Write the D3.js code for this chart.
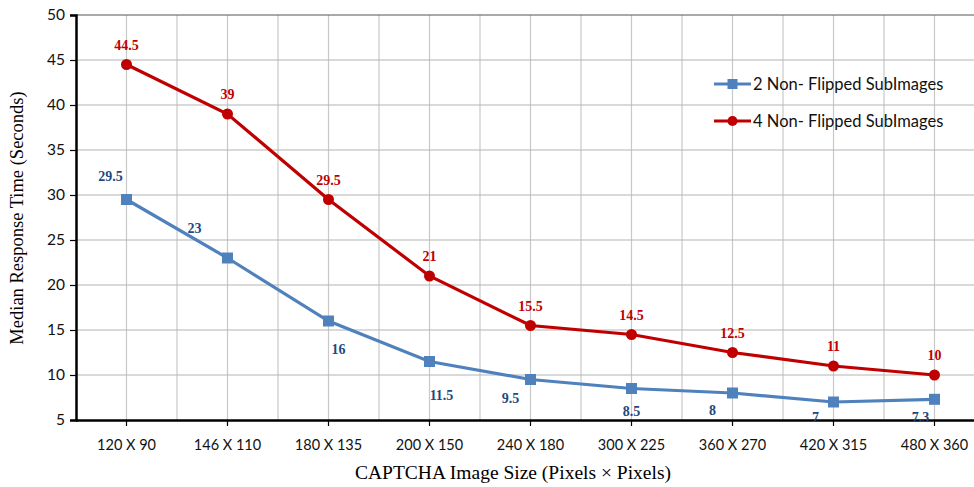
<!DOCTYPE html>
<html>
<head>
<meta charset="utf-8">
<script src="https://cdn.jsdelivr.net/npm/d3@7"></script>
<style>
  body { margin: 0; background: #fff; }
  .tick text { font-family: Lato, "Open Sans", sans-serif; }
</style>
</head>
<body>
<svg id="chart" width="974" height="487"></svg>
<script>
// chart data
var sizes = ["120 X 90", "146 X 110", "180 X 135", "200 X 150", "240 X 180",
             "300 X 225", "360 X 270", "420 X 315", "480 X 360"];
var twoSub = [29.5, 23, 16, 11.5, 9.5, 8.5, 8, 7, 7.3];
var fourSub = [44.5, 39, 29.5, 21, 15.5, 14.5, 12.5, 11, 10];
var yTicks = [5, 10, 15, 20, 25, 30, 35, 40, 45, 50];
var seriesNames = ["2 Non- Flipped SubImages", "4 Non- Flipped SubImages"];

// label nudges for the blue series (excel put them all over the place)
var blueLabelOffsets = [[-16, -19], [-33, -25], [10, 33], [12, 38], [-20, 23],
                        [0, 27], [-20, 22], [-18, 20], [-14, 23]];

var svg = d3.select("#chart");
var margin = { left: 76, top: 15, bottom: 420 };
var plotRight = margin.left + sizes.length * 101;

var x = d3.scaleBand().domain(sizes).range([margin.left, plotRight]);
var y = d3.scaleLinear().domain([5, 50]).range([margin.bottom, margin.top]);
var cx = d => x(d) + x.bandwidth() / 2;

// vertical grid: band centres and band edges
var vLines = [];
sizes.forEach(s => { vLines.push(cx(s)); vLines.push(x(s) + x.bandwidth()); });
svg.append("g").selectAll("line")
    .data(vLines)
    .enter().append("line")
    .attr("x1", d => d).attr("x2", d => d)
    .attr("y1", margin.top).attr("y2", margin.bottom)
    .attr("stroke", "#c8c8c8").attr("stroke-width", 1.2);

// horizontal grid
svg.append("g").selectAll("line")
    .data(yTicks.slice(1))
    .enter().append("line")
    .attr("x1", margin.left).attr("x2", 974)
    .attr("y1", d => y(d)).attr("y2", d => y(d))
    .attr("stroke", d => d == 50 ? "#555" : "#b4b4b4").attr("stroke-width", 1.2);

// y axis
var yAxis = svg.append("g")
    .attr("transform", `translate(${margin.left},0)`)
    .call(d3.axisLeft(y).tickValues(yTicks).tickSize(6).tickPadding(5));
yAxis.select(".domain").attr("stroke", "#000").attr("stroke-width", 2.5);
yAxis.selectAll(".tick line").attr("stroke", "#000").attr("stroke-width", 1.2);
yAxis.selectAll(".tick text").style("font-size", "15.5px").attr("fill", "#111");

// x axis
var xAxis = svg.append("g")
    .attr("transform", `translate(0,${margin.bottom})`)
    .call(d3.axisBottom(x).tickSize(6).tickPadding(14).tickSizeOuter(0));
xAxis.select(".domain").attr("stroke", "#000").attr("stroke-width", 2.5)
    .attr("d", `M${margin.left},0.5H974`);
xAxis.selectAll(".tick line").attr("stroke", "#000").attr("stroke-width", 1.2);
xAxis.selectAll(".tick text").style("font-size", "14.5px").attr("fill", "#111");

// axis titles
svg.append("text")
    .attr("transform", "translate(23,218) rotate(-90)")
    .attr("text-anchor", "middle")
    .style("font-family", "'Liberation Serif', 'Times New Roman', serif")
    .style("font-size", "18.5px")
    .text("Median Response Time (Seconds)");

svg.append("text")
    .attr("x", 513).attr("y", 479)
    .attr("text-anchor", "middle")
    .style("font-family", "'Liberation Serif', 'Times New Roman', serif")
    .style("font-size", "19.5px")
    .text("CAPTCHA Image Size (Pixels \u00D7 Pixels)");

var line = d3.line()
    .x((d, i) => cx(sizes[i]))
    .y(d => y(d));

// blue series
svg.append("path")
    .datum(twoSub)
    .attr("d", line)
    .attr("fill", "none")
    .attr("stroke", "#4F81BD")
    .attr("stroke-width", 3.2);

svg.append("g").selectAll("rect")
    .data(twoSub)
    .enter().append("rect")
    .attr("x", (d, i) => cx(sizes[i]) - 5.5)
    .attr("y", d => y(d) - 5.5)
    .attr("width", 11).attr("height", 11)
    .attr("fill", "#4F81BD");

// red series
svg.append("path")
    .datum(fourSub)
    .attr("d", line)
    .attr("fill", "none")
    .attr("stroke", "#C00000")
    .attr("stroke-width", 3.2);

svg.append("g").selectAll("circle")
    .data(fourSub)
    .enter().append("circle")
    .attr("cx", (d, i) => cx(sizes[i]))
    .attr("cy", d => y(d))
    .attr("r", 5.5)
    .attr("fill", "#C00000");

// data labels
svg.append("g").selectAll("text")
    .data(fourSub)
    .enter().append("text")
    .attr("x", (d, i) => cx(sizes[i]))
    .attr("y", d => y(d) - 15)
    .attr("text-anchor", "middle")
    .style("font-family", "'Liberation Serif', 'Times New Roman', serif")
    .style("font-size", "14px")
    .style("font-weight", "bold")
    .attr("fill", "#C00000")
    .text(d => d);

svg.append("g").selectAll("text")
    .data(twoSub)
    .enter().append("text")
    .attr("x", (d, i) => cx(sizes[i]) + blueLabelOffsets[i][0])
    .attr("y", (d, i) => y(d) + blueLabelOffsets[i][1])
    .attr("text-anchor", "middle")
    .style("font-family", "'Liberation Serif', 'Times New Roman', serif")
    .style("font-size", "14px")
    .style("font-weight", "bold")
    .attr("fill", "#1F497D")
    .text(d => d);

// legend
var legend = svg.append("g").attr("transform", "translate(714,84)");
var legendItems = legend.selectAll("g")
    .data(seriesNames)
    .enter().append("g")
    .attr("transform", (d, i) => `translate(0,${i * 37})`);

legendItems.append("line")
    .attr("x1", 0).attr("x2", 37)
    .attr("stroke", (d, i) => i == 0 ? "#4F81BD" : "#C00000")
    .attr("stroke-width", 3.2);

legendItems.append("path")
    .attr("transform", "translate(18.5,0)")
    .attr("d", (d, i) => i == 0 ? "M-5,-5H5V5H-5Z" : d3.symbol(d3.symbolCircle, 80)())
    .attr("fill", (d, i) => i == 0 ? "#4F81BD" : "#C00000");

legendItems.append("text")
    .attr("x", 39)
    .attr("dy", "0.35em")
    .style("font-family", "Lato, 'Open Sans', sans-serif")
    .style("font-size", "16.5px")
    .attr("fill", "#111")
    .text(d => d);
</script>
</body>
</html>
